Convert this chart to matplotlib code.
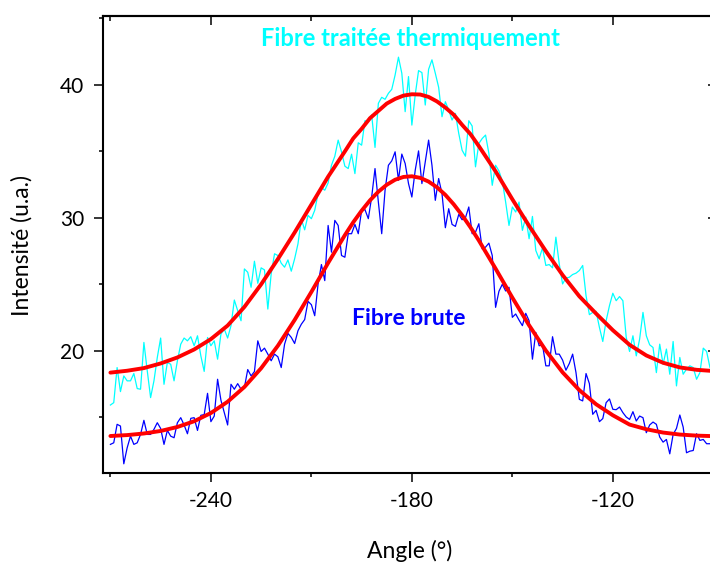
import numpy as np
import matplotlib
matplotlib.use("Agg")
import matplotlib.pyplot as plt

# ---------------- data ----------------
angle_start = -270
angle_step = 1

treated = [15.92, 16.10, 18.74, 16.93, 18.11, 17.74, 17.74, 18.29, 17.16, 17.11,
           20.63, 18.50, 16.48, 17.74, 19.50, 20.96, 17.48, 19.12, 18.99, 17.74,
           19.25, 20.50, 20.96, 20.75, 21.06, 20.38, 21.13, 19.62, 18.45, 21.00,
           20.38, 20.75, 19.37, 21.26, 21.64, 20.96, 21.89, 23.82, 23.02, 22.26,
           26.16, 25.91, 24.78, 26.74, 25.08, 26.24, 26.09, 23.14, 25.79, 27.30,
           27.17, 26.59, 26.29, 26.84, 25.99, 26.92, 28.05, 29.90, 29.10, 30.19,
           29.94, 30.57, 31.82, 32.28, 32.08, 32.63, 33.96, 34.64, 35.85, 34.97,
           33.89, 33.71, 34.79, 33.33, 35.65, 35.47, 37.31, 37.23, 37.74, 35.30,
           38.62, 39.07, 38.92, 39.37, 39.67, 40.75, 42.09, 40.88, 37.99, 40.63,
           36.98, 39.25, 41.08, 40.93, 38.49, 41.18, 41.89, 40.88, 39.82, 37.61,
           38.74, 38.11, 37.36, 37.86, 36.35, 35.09, 34.64, 37.31, 36.91, 33.84,
           35.60, 35.97, 36.23, 34.84, 32.45, 33.96, 33.53, 32.78, 31.19, 29.43,
           30.82, 30.44, 31.19, 29.06, 30.06, 28.43, 30.11, 27.55, 26.92, 27.75,
           26.42, 26.49, 26.24, 28.55, 26.54, 25.03, 25.48, 25.53, 25.74, 25.84,
           26.04, 26.42, 24.15, 22.72, 22.89, 22.97, 21.76, 20.70, 22.26, 23.40,
           24.33, 23.77, 24.08, 23.77, 21.01, 19.95, 21.13, 19.62, 20.88, 22.89,
           21.13, 20.45, 20.25, 18.36, 20.50, 18.99, 20.13, 18.24, 20.70, 17.36,
           19.50, 18.24, 18.62, 18.87, 18.74, 17.86, 18.36, 20.20, 19.95, 18.74,
           18.90]

raw = [12.96, 13.08, 14.47, 14.34, 11.50, 12.70, 13.58, 12.96, 13.08, 13.71,
       14.77, 13.71, 13.71, 14.09, 14.59, 14.16, 12.96, 14.01, 13.58, 13.46,
       14.59, 14.97, 14.42, 13.76, 14.92, 14.97, 14.01, 15.15, 15.20, 16.80,
       14.67, 15.09, 17.86, 16.28, 15.35, 14.42, 17.48, 17.11, 17.53, 17.11,
       17.23, 18.59, 18.11, 18.44, 20.75, 19.95, 20.20, 19.75, 19.25, 19.75,
       19.55, 18.74, 20.50, 21.31, 21.01, 20.55, 21.51, 22.00, 22.35, 23.72,
       23.47, 22.64, 25.03, 26.49, 25.28, 29.43, 27.42, 29.81, 29.43, 27.17,
       27.04, 28.81, 28.81, 29.51, 28.81, 30.57, 30.62, 29.94, 31.57, 33.71,
       31.19, 28.81, 32.08, 33.96, 34.29, 34.97, 32.83, 34.80, 34.09, 32.58,
       31.57, 33.58, 35.04, 32.58, 34.21, 35.85, 33.96, 31.32, 32.96, 31.82,
       29.26, 30.69, 29.51, 29.36, 30.26, 29.86, 30.01, 30.82, 28.81, 28.93,
       29.56, 27.67, 27.80, 28.10, 27.17, 23.27, 24.48, 25.00, 24.50, 24.78,
       22.52, 22.77, 22.31, 21.89, 22.82, 22.26, 19.37, 21.38, 20.38, 20.45,
       18.87, 18.87, 21.06, 19.75, 19.75, 19.30, 18.54, 19.04, 19.75, 18.36,
       16.35, 16.23, 18.29, 17.53, 15.22, 15.52, 14.67, 14.90, 16.10, 16.38,
       15.60, 15.57, 15.77, 15.35, 15.02, 14.84, 15.42, 14.72, 15.09, 14.97,
       13.84, 14.42, 14.64, 14.47, 13.51, 13.13, 13.33, 12.25, 13.71, 14.16,
       15.17, 14.26, 12.33, 12.45, 12.50, 13.76, 13.26, 13.33, 13.01, 13.01,
       13.10]

fit_angles = [-270, -265, -260, -255, -250, -245, -240, -235, -230, -225,
              -220, -215, -210, -205, -200, -197.5, -195, -192.5, -190, -187.5,
              -185, -182.5, -180, -177.5, -175, -172.5, -170, -167.5, -165, -162.5,
              -160, -155, -150, -145, -140, -135, -130, -125,
              -120, -115, -110, -105, -100, -95, -90]

fit_treated = [18.36, 18.50, 18.70, 19.05, 19.50, 20.10, 20.88, 21.90, 23.30, 25.00,
               26.90, 28.90, 31.00, 33.10, 35.00, 35.98, 36.70, 37.50, 38.05, 38.60,
               38.95, 39.20, 39.30, 39.28, 39.10, 38.76, 38.30, 37.76, 37.00, 36.30,
               35.40, 33.50, 31.40, 29.40, 27.50, 25.70, 24.10, 22.80,
               21.55, 20.45, 19.65, 19.10, 18.75, 18.57, 18.48]

fit_raw = [13.59, 13.66, 13.78, 13.97, 14.27, 14.70, 15.32, 16.17, 17.28, 18.69,
           20.38, 22.32, 24.43, 26.61, 28.70, 29.67, 30.54, 31.32, 31.97, 32.49,
           32.87, 33.08, 33.13, 33.01, 32.73, 32.30, 31.73, 31.02, 30.20, 29.29,
           28.30, 26.18, 24.00, 21.92, 20.02, 18.38, 17.04, 15.98,
           15.15, 14.45, 14.10, 13.85, 13.70, 13.62, 13.58]

x_major = [-240, -180, -120]
x_minor = [-270, -210, -150, -90]
y_major = [20, 30, 40]
y_minor = [15, 25, 35, 45]

label_treated = "Fibre traitée thermiquement"
label_raw = "Fibre brute"
xlabel = "Angle (°)"
ylabel = "Intensité (u.a.)"

# ---------------- plot ----------------
plt.rcParams['font.family'] = ['Lato', 'DejaVu Sans']
plt.rcParams['axes.unicode_minus'] = False

W, H = 710, 567
fig = plt.figure(figsize=(W / 100, H / 100), dpi=100)
left_px, right_px, top_px, bottom_px = 102.7, 717.0, 15.7, 472.7
ax = fig.add_axes([left_px / W, 1 - bottom_px / H,
                   (right_px - left_px) / W, (bottom_px - top_px) / H])

angles = angle_start + angle_step * np.arange(len(treated))

ax.plot(angles, treated, color='#00FFFF', lw=0.9, zorder=2)
ax.plot(angles, raw, color='#0000FF', lw=0.9, zorder=2)
ax.plot(fit_angles, fit_treated, color='#FF0000', lw=2.8, zorder=3,
        solid_capstyle='round', solid_joinstyle='round')
ax.plot(fit_angles, fit_raw, color='#FF0000', lw=2.8, zorder=3,
        solid_capstyle='round', solid_joinstyle='round')

ax.set_xlim(-272.3, -88.9)
ax.set_ylim(10.83, 45.21)

ax.set_xticks(x_major)
ax.set_xticks(x_minor, minor=True)
ax.set_yticks(y_major)
ax.set_yticks(y_minor, minor=True)
ax.tick_params(which='major', direction='out', length=6.5, width=1.1,
               labelsize=15, pad=7)
ax.tick_params(which='minor', direction='out', length=3.2, width=1.1)

for s in ax.spines.values():
    s.set_linewidth(1.5)

sx = ax.secondary_xaxis('top')
sx.set_xticks(x_major)
sx.set_xticks(x_minor, minor=True)
sx.tick_params(which='major', direction='in', length=6.5, width=1.1, labeltop=False)
sx.tick_params(which='minor', direction='in', length=3.5, width=1.1)
sx.spines['top'].set_linewidth(1.5)

sy = ax.secondary_yaxis('right')
sy.set_yticks(y_major)
sy.set_yticks(y_minor, minor=True)
sy.tick_params(which='major', direction='in', length=6.5, width=1.1, labelright=False)
sy.tick_params(which='minor', direction='in', length=3.5, width=1.1)

ax.set_xlabel(xlabel, fontsize=16.5)
ax.set_ylabel(ylabel, fontsize=16.5)
ax.xaxis.label.set_va('center')
ax.yaxis.label.set_va('center')
ax.xaxis.set_label_coords((410 - left_px) / (right_px - left_px),
                          (bottom_px - 551) / (bottom_px - top_px))
ax.yaxis.set_label_coords((22 - left_px) / (right_px - left_px),
                          (bottom_px - 245) / (bottom_px - top_px))

ax.text(-180.4, 43.5, label_treated, color='#00FFFF', fontsize=17,
        fontweight='bold', ha='center', va='center')
ax.text(-181.0, 22.46, label_raw, color='#0000FF', fontsize=16.5,
        fontweight='bold', ha='center', va='center')

fig.savefig("out.png", dpi=100)
